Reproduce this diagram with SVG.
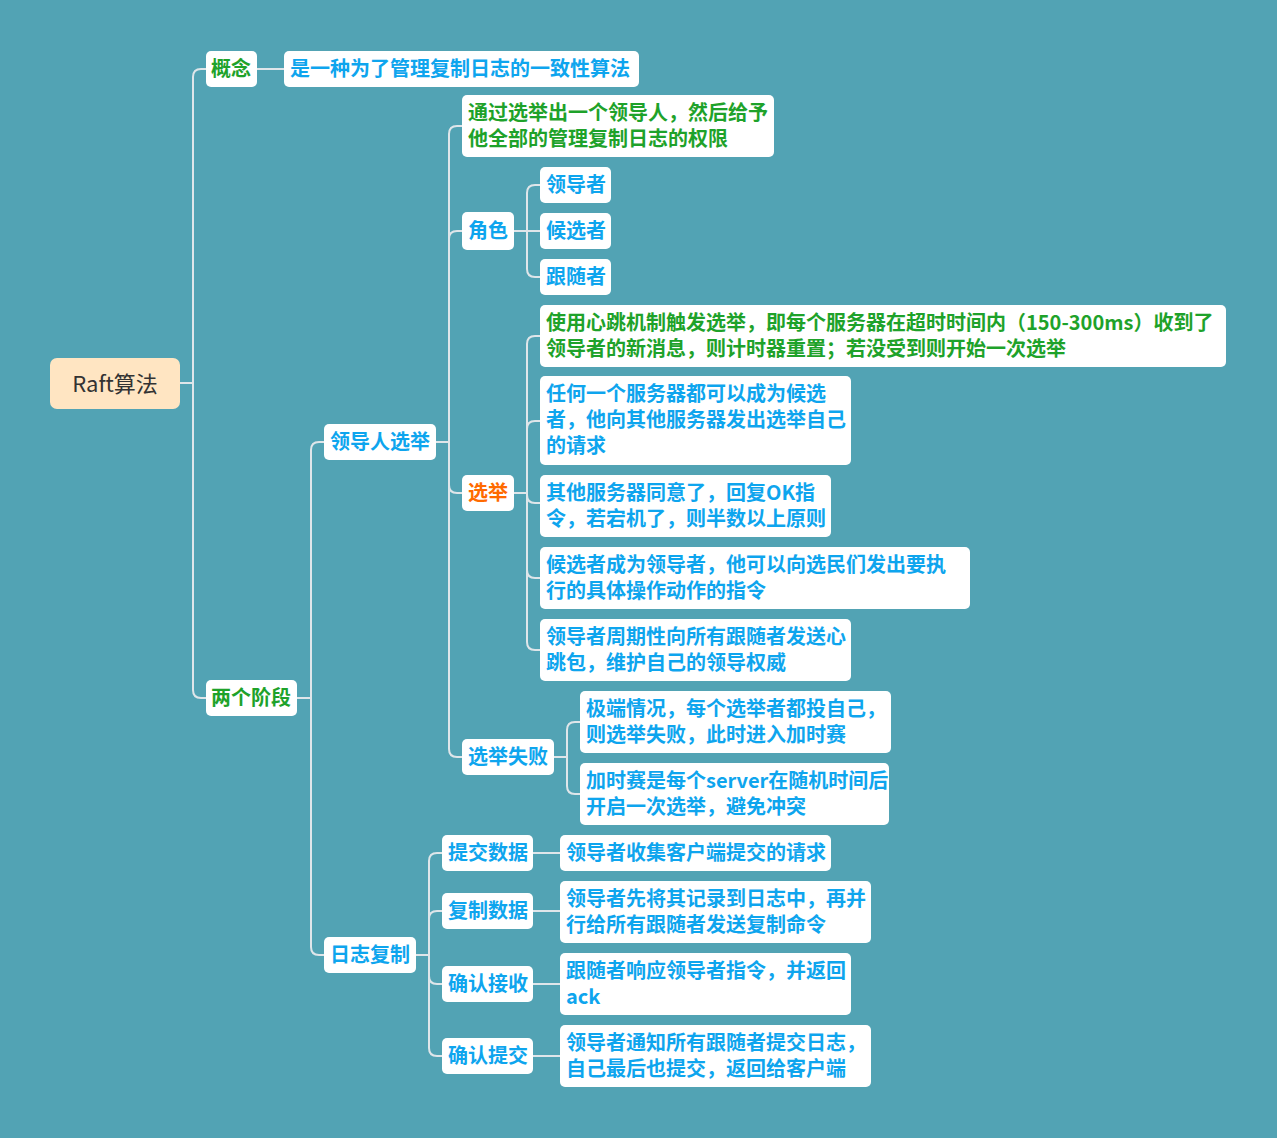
<svg xmlns="http://www.w3.org/2000/svg" width="1277" height="1138" viewBox="0 0 1277 1138">
<style>
  .bg { fill: #52a3b4; }
  .box { fill: #ffffff; }
  .root { fill: #ffe5c2; }
  text { font-family: "Noto Sans CJK SC", "Noto Sans", sans-serif; font-size: 20px; font-weight: bold; }
  .g { fill: #1ea22a; }
  .b { fill: #0ea5ee; }
  .o { fill: #ff6a00; }
  .rt { fill: #333333; font-size: 22px; font-weight: normal; }
  .ln { fill: none; stroke: #dfe6ea; stroke-width: 2; }
</style>
<rect class="bg" x="0" y="0" width="1277" height="1138"/>

<!-- connectors -->
<g id="connectors" class="ln">
  <!-- root -->
  <path d="M180 383 H193 V77 Q193 69 201 69 H206"/>
  <path d="M180 383 H193 V690 Q193 698 201 698 H206"/>
  <!-- 概念 -->
  <path d="M257 69 H284"/>
  <!-- 两个阶段 -->
  <path d="M297 698 H311 V450 Q311 442 319 442 H324"/>
  <path d="M297 698 H311 V947 Q311 955 319 955 H324"/>
  <!-- 领导人选举 -->
  <path d="M436 442 H449 V134 Q449 126 457 126 H462"/>
  <path d="M436 442 H449 V239 Q449 231 457 231 H462"/>
  <path d="M436 442 H449 V485 Q449 493 457 493 H462"/>
  <path d="M436 442 H449 V749 Q449 757 457 757 H462"/>
  <!-- 角色 -->
  <path d="M514 231 H527 V193 Q527 185 535 185 H540"/>
  <path d="M514 231 H540"/>
  <path d="M514 231 H527 V269 Q527 277 535 277 H540"/>
  <!-- 选举 -->
  <path d="M514 493 H527 V344 Q527 336 535 336 H540"/>
  <path d="M514 493 H527 V429 Q527 421 535 421 H540"/>
  <path d="M514 493 H527 V495 Q527 503 535 503 H540"/>
  <path d="M514 493 H527 V570 Q527 578 535 578 H540"/>
  <path d="M514 493 H527 V642 Q527 650 535 650 H540"/>
  <!-- 选举失败 -->
  <path d="M554 757 H567 V730 Q567 722 575 722 H580"/>
  <path d="M554 757 H567 V786 Q567 794 575 794 H580"/>
  <!-- 日志复制 -->
  <path d="M416 955 H429 V861 Q429 853 437 853 H442"/>
  <path d="M416 955 H429 V919 Q429 911 437 911 H442"/>
  <path d="M416 955 H429 V976 Q429 984 437 984 H442"/>
  <path d="M416 955 H429 V1048 Q429 1056 437 1056 H442"/>
  <!-- 日志复制 leaves -->
  <path d="M533 853 H560"/>
  <path d="M533 911 H560"/>
  <path d="M533 984 H560"/>
  <path d="M533 1056 H560"/>
</g>

<!-- root -->
<g id="n-root">
  <rect class="root" x="50" y="358" width="130" height="51" rx="7"/>
  <text class="rt" x="115" y="392" text-anchor="middle">Raft算法</text>
</g>

<g id="n-concept">
  <rect class="box" x="206" y="51" width="51" height="36" rx="5"/>
  <text class="g" x="211" y="76">概念</text>
</g>
<g id="n-concept-desc">
  <rect class="box" x="284" y="51" width="355" height="36" rx="5"/>
  <text class="b" x="290" y="76">是一种为了管理复制日志的一致性算法</text>
</g>

<g id="n-phases">
  <rect class="box" x="206" y="680" width="91" height="36" rx="5"/>
  <text class="g" x="211" y="705">两个阶段</text>
</g>

<g id="n-election">
  <rect class="box" x="324" y="424" width="112" height="36" rx="5"/>
  <text class="b" x="330" y="449">领导人选举</text>
</g>

<g id="n-election-desc">
  <rect class="box" x="462" y="95" width="312" height="62" rx="5"/>
  <text class="g" x="468" y="120">通过选举出一个领导人，然后给予</text>
  <text class="g" x="468" y="146">他全部的管理复制日志的权限</text>
</g>

<g id="n-roles">
  <rect class="box" x="462" y="212" width="52" height="38" rx="5"/>
  <text class="b" x="468" y="238">角色</text>
</g>
<g id="n-leader">
  <rect class="box" x="540" y="167" width="71" height="36" rx="5"/>
  <text class="b" x="546" y="192">领导者</text>
</g>
<g id="n-candidate">
  <rect class="box" x="540" y="213" width="71" height="36" rx="5"/>
  <text class="b" x="546" y="238">候选者</text>
</g>
<g id="n-follower">
  <rect class="box" x="540" y="259" width="71" height="36" rx="5"/>
  <text class="b" x="546" y="284">跟随者</text>
</g>

<g id="n-vote">
  <rect class="box" x="462" y="475" width="52" height="36" rx="5"/>
  <text class="o" x="468" y="500">选举</text>
</g>
<g id="n-vote-1">
  <rect class="box" x="540" y="305" width="686" height="62" rx="5"/>
  <text class="g" x="546" y="330">使用心跳机制触发选举，即每个服务器在超时时间内（150-300ms）收到了</text>
  <text class="g" x="546" y="356">领导者的新消息，则计时器重置；若没受到则开始一次选举</text>
</g>
<g id="n-vote-2">
  <rect class="box" x="540" y="376" width="311" height="89" rx="5"/>
  <text class="b" x="546" y="401">任何一个服务器都可以成为候选</text>
  <text class="b" x="546" y="427">者，他向其他服务器发出选举自己</text>
  <text class="b" x="546" y="453">的请求</text>
</g>
<g id="n-vote-3">
  <rect class="box" x="540" y="475" width="291" height="62" rx="5"/>
  <text class="b" x="546" y="500">其他服务器同意了，回复OK指</text>
  <text class="b" x="546" y="526">令，若宕机了，则半数以上原则</text>
</g>
<g id="n-vote-4">
  <rect class="box" x="540" y="547" width="430" height="62" rx="5"/>
  <text class="b" x="546" y="572">候选者成为领导者，他可以向选民们发出要执</text>
  <text class="b" x="546" y="598">行的具体操作动作的指令</text>
</g>
<g id="n-vote-5">
  <rect class="box" x="540" y="619" width="311" height="62" rx="5"/>
  <text class="b" x="546" y="644">领导者周期性向所有跟随者发送心</text>
  <text class="b" x="546" y="670">跳包，维护自己的领导权威</text>
</g>

<g id="n-fail">
  <rect class="box" x="462" y="739" width="92" height="36" rx="5"/>
  <text class="b" x="468" y="764">选举失败</text>
</g>
<g id="n-fail-1">
  <rect class="box" x="580" y="691" width="311" height="62" rx="5"/>
  <text class="b" x="586" y="716">极端情况，每个选举者都投自己，</text>
  <text class="b" x="586" y="742">则选举失败，此时进入加时赛</text>
</g>
<g id="n-fail-2">
  <rect class="box" x="580" y="763" width="309" height="62" rx="5"/>
  <text class="b" x="586" y="788">加时赛是每个server在随机时间后</text>
  <text class="b" x="586" y="814">开启一次选举，避免冲突</text>
</g>

<g id="n-log">
  <rect class="box" x="324" y="937" width="92" height="36" rx="5"/>
  <text class="b" x="330" y="962">日志复制</text>
</g>

<g id="n-submit">
  <rect class="box" x="442" y="835" width="91" height="36" rx="5"/>
  <text class="b" x="448" y="860">提交数据</text>
</g>
<g id="n-submit-desc">
  <rect class="box" x="560" y="835" width="271" height="36" rx="5"/>
  <text class="b" x="566" y="860">领导者收集客户端提交的请求</text>
</g>

<g id="n-replicate">
  <rect class="box" x="442" y="893" width="91" height="36" rx="5"/>
  <text class="b" x="448" y="918">复制数据</text>
</g>
<g id="n-replicate-desc">
  <rect class="box" x="560" y="881" width="311" height="62" rx="5"/>
  <text class="b" x="566" y="906">领导者先将其记录到日志中，再并</text>
  <text class="b" x="566" y="932">行给所有跟随者发送复制命令</text>
</g>

<g id="n-ack">
  <rect class="box" x="442" y="966" width="91" height="36" rx="5"/>
  <text class="b" x="448" y="991">确认接收</text>
</g>
<g id="n-ack-desc">
  <rect class="box" x="560" y="953" width="291" height="62" rx="5"/>
  <text class="b" x="566" y="978">跟随者响应领导者指令，并返回</text>
  <text class="b" x="566" y="1004">ack</text>
</g>

<g id="n-commit">
  <rect class="box" x="442" y="1038" width="91" height="36" rx="5"/>
  <text class="b" x="448" y="1063">确认提交</text>
</g>
<g id="n-commit-desc">
  <rect class="box" x="560" y="1025" width="311" height="62" rx="5"/>
  <text class="b" x="566" y="1050">领导者通知所有跟随者提交日志，</text>
  <text class="b" x="566" y="1076">自己最后也提交，返回给客户端</text>
</g>
</svg>
